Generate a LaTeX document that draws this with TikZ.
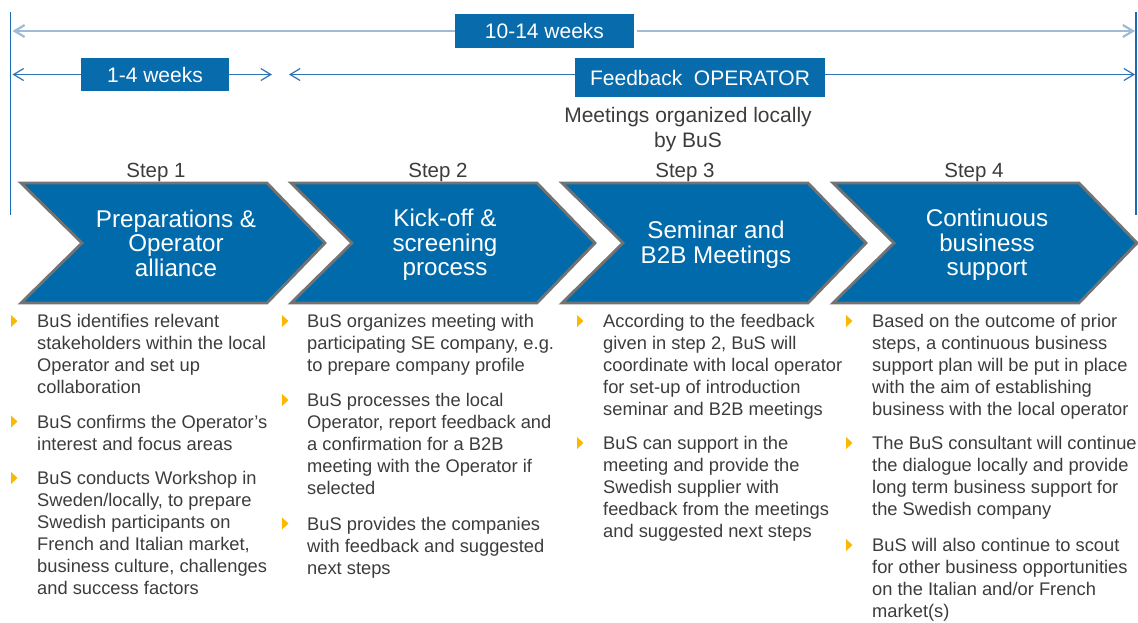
\documentclass[tikz,border=0pt]{standalone}
\usepackage{fontspec}
\setmainfont{Liberation Sans}
\usetikzlibrary{arrows.meta}
\definecolor{mainblue}{RGB}{0,106,170}
\definecolor{boxblue}{RGB}{8,107,172}
\definecolor{chevgray}{RGB}{115,115,115}
\definecolor{lightarrow}{RGB}{160,186,216}
\definecolor{arrowblue}{RGB}{48,116,182}
\definecolor{vlineblue}{RGB}{25,108,178}
\definecolor{textgray}{RGB}{60,60,60}
\definecolor{bulletc}{RGB}{250,184,0}
\newcommand\chevronat[1]{\filldraw[chev] (#1,183) -- ++(246,0) -- ++(58,60) -- ++(-58,60) -- ++(-246,0) -- ++(61,-60) -- cycle;}
\newcommand\bulletmark[2]{\fill[bulletc] (#1-3,#2-6) -- (#1+3.5,#2) -- (#1-3,#2+6) -- cycle;}
\begin{document}
\begin{tikzpicture}[x=1pt,y=-1pt,
 durbox/.style={fill=boxblue, text=white, inner sep=0pt, font=\fontsize{21}{25}\selectfont},
 steplabel/.style={text=textgray, font=\fontsize{20.5}{25}\selectfont, inner sep=0pt, anchor=base},
 chevtext/.style={text=white, align=center, font=\fontsize{24.2}{24.6}\selectfont, inner sep=0pt},
 body/.style={text=textgray, align=left, anchor=base west, inner sep=0pt, font=\fontsize{18.3}{22}\selectfont},
 toparrow/.style={draw=lightarrow, line width=2.2pt, -{Straight Barb[length=10pt,width=12pt]}},
 midarrow/.style={draw=arrowblue, line width=1.2pt, -{Straight Barb[length=10pt,width=12pt]}},
 vline/.style={draw=vlineblue, line width=1.5pt},
 chev/.style={fill=mainblue, draw=chevgray, line width=2.8pt, line join=miter},
]
\useasboundingbox (0,0) rectangle (1138,622);

% vertical limit lines
\coordinate (v1t) at (10.3,12); \coordinate (v1b) at (10.3,215);
\coordinate (v2t) at (1136,12); \coordinate (v2b) at (1136,215);
\draw[vline] (v1t) -- (v1b);
\draw[vline] (v2t) -- (v2b);

% duration boxes
\node[durbox, minimum width=179, minimum height=34] (b10) at (544.5,31) {10-14 weeks};
\node[durbox, minimum width=148, minimum height=33] (b14) at (155,74.5) {1-4 weeks};
\node[durbox, minimum width=250, minimum height=39] (bfb) at (700,77.5) {Feedback\ \ OPERATOR};

% arrows
\coordinate (tl) at (12.5,31); \coordinate (tr) at (1135,31);
\coordinate (ml) at (12.5,74.5); \coordinate (mr1) at (272,74.5);
\coordinate (ml2) at (289,74.5); \coordinate (mr) at (1135,74.5);
\draw[toparrow] (b10.west) -- (tl);
\draw[toparrow] ([xshift=3pt]b10.east) -- (tr);
\draw[midarrow] (b14.west) -- (ml);
\draw[midarrow] (b14.east) -- (mr1);
\draw[midarrow] (ml2 -| bfb.west) -- (ml2);
\draw[midarrow] (mr -| bfb.east) -- (mr);

% meetings label (base = baseline of last line)
\node[steplabel, align=center, font=\fontsize{21}{25}\selectfont] (meet) at (688,147.5) {Meetings organized locally\\by BuS};

% step labels
\node[steplabel] (s1) at (156,177.4) {Step 1};
\node[steplabel] (s2) at (438,177.4) {Step 2};
\node[steplabel] (s3) at (685,177.4) {Step 3};
\node[steplabel] (s4) at (974,177.4) {Step 4};

% chevrons
\chevronat{21}
\chevronat{291}
\chevronat{562}
\chevronat{833}
\node[chevtext] (c1) at (176,243) {Preparations \&\\Operator\\alliance};
\node[chevtext] (c2) at (445,245) {Kick-off \&\\screening\\process};
\node[chevtext] (c3) at (716,245) {Seminar and\\B2B Meetings};
\node[chevtext] (c4) at (987,245) {Continuous\\business\\support};

% body paragraphs: node placed at the baseline of the LAST line
% column 1
\bulletmark{14}{321}
\node[body] (p11) at (37,393.5) {BuS identifies relevant\\stakeholders within the local\\Operator and set up\\collaboration};
\bulletmark{14}{421.5}
\node[body] (p12) at (37,450) {BuS confirms the Operator’s\\interest and focus areas};
\bulletmark{14}{478}
\node[body] (p13) at (37,594.5) {BuS conducts Workshop in\\Sweden/locally, to prepare\\Swedish participants on\\French and Italian market,\\business culture, challenges\\and success factors};

% column 2
\bulletmark{285}{321}
\node[body] (p21) at (307,371.5) {BuS organizes meeting with\\participating SE company, e.g.\\to prepare company profile};
\bulletmark{285}{400}
\node[body] (p22) at (307,494.5) {BuS processes the local\\Operator, report feedback and\\a confirmation for a B2B\\meeting with the Operator if\\selected};
\bulletmark{285}{523.5}
\node[body] (p23) at (307,574) {BuS provides the companies\\with feedback and suggested\\next steps};

% column 3
\bulletmark{580}{321}
\node[body] (p31) at (603,415.5) {According to the feedback\\given in step 2, BuS will\\coordinate with local operator\\for set-up of introduction\\seminar and B2B meetings};
\bulletmark{580}{443}
\node[body] (p32) at (603,537.5) {BuS can support in the\\meeting and provide the\\Swedish supplier with\\feedback from the meetings\\and suggested next steps};

% column 4
\bulletmark{849}{321}
\node[body] (p41) at (872,415.5) {Based on the outcome of prior\\steps, a continuous business\\support plan will be put in place\\with the aim of establishing\\business with the local operator};
\bulletmark{849}{443}
\node[body] (p42) at (872,515.5) {The BuS consultant will continue\\the dialogue locally and provide\\long term business support for\\the Swedish company};
\bulletmark{849}{545}
\node[body] (p43) at (872,617.5) {BuS will also continue to scout\\for other business opportunities\\on the Italian and/or French\\market(s)};
\end{tikzpicture}
\end{document}
